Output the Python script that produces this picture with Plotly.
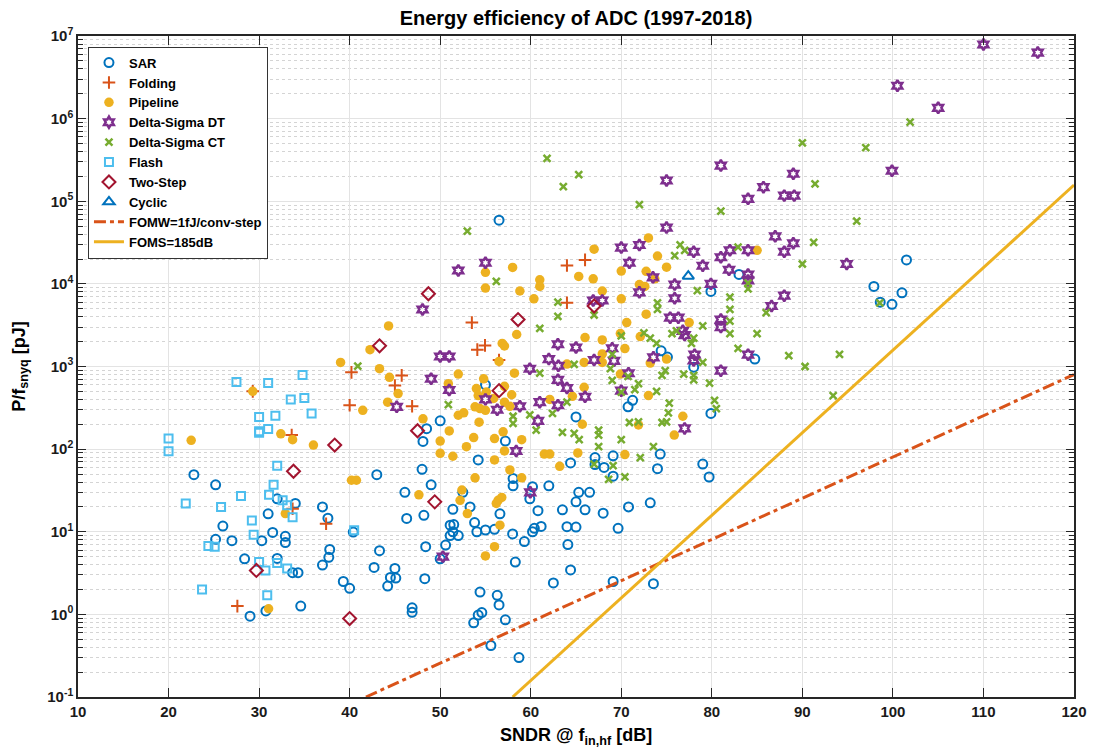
import plotly.graph_objects as go

# ---------------- data (SNDR in dB, P/fsnyq in pJ) ----------------
sar_sndr = [22.8, 25.2, 26.0, 25.2, 27.0, 28.4, 30.3, 31.5, 31.0, 32.0, 34.0, 32.9, 32.9, 32.0, 33.7, 34.3,
            29.0, 30.75, 34.6, 37.0, 37.6, 37.8, 37.7, 37.0, 39.3, 40.0, 40.4,
            56.5, 55.0, 50.0, 48.5, 48.1, 57.2, 65.0,
            83.0, 79.9, 101.5, 97.9, 98.6, 99.9, 101.0,
            74.4, 75.1, 78.0, 84.75, 71.25, 70.75, 79.9, 74.3, 74.0, 79.0, 79.7,
            54.2, 43.0, 48.0, 49.0, 46.1, 52.5, 58.05, 58.05, 60.2, 59.9, 62.0, 64.4, 67.1, 67.1, 68.1,
            65.3, 65.0, 66.5, 53.3, 51.4, 56.6, 60.8, 63.5, 66.0, 68.0, 70.8, 46.3, 48.2, 53.8, 54.05,
            55.0, 56.0, 51.1, 51.5, 51.1, 52.0, 51.4, 50.6, 48.4, 58.0, 59.3, 60.2, 60.4, 61.15, 64.0,
            65.0, 64.1, 69.65, 43.3, 50.0, 42.7, 45.0, 44.5, 44.2, 45.1, 48.3, 58.3, 64.4, 62.5, 69.1,
            54.4, 56.3, 56.5, 46.9, 46.9, 53.7, 54.2, 54.6, 57.2, 55.6, 58.7, 69.1, 69.1,
            73.2, 73.55]
sar_p = [49, 37, 11.7, 8.1, 7.8, 4.7, 7.8, 9.8, 16.5, 25, 22, 8.8, 7.4, 4.75, 3.2, 3.2,
         0.95, 1.1, 1.26, 20, 14.6, 6.1, 4.9, 3.95, 2.5, 2.07, 9.9,
         59000, 600, 220, 177, 124, 125, 245,
         13000, 8100, 19500, 9300, 6000, 5650, 7800,
         1550, 1300, 980, 1230, 390, 325, 270, 87, 58, 66, 46,
         74, 49, 57, 37, 30, 30, 44, 36, 35, 25, 36, 68, 79, 65, 60,
         30, 23, 30, 20, 18.7, 16.5, 18, 18.4, 18.4, 16.8, 20, 14.5, 15.8, 12.9, 10,
         10.5, 10.7, 12, 12.2, 9, 9, 10, 6.9, 6.6, 9.4, 7.6, 10, 11, 11.6, 11.5,
         11.4, 7.0, 11, 5.9, 4.7, 3.7, 3.6, 2.8, 2.2, 2.75, 2.7, 4.3, 3.45, 2.4, 2.5,
         1.86, 1.7, 1.3, 1.2, 1.06, 0.79, 0.98, 1.05, 0.86, 0.42, 0.30, 83, 47,
         22.4, 2.35]

fold_sndr = [29.3, 33.6, 40.2, 40.0, 33.7, 37.4, 27.6, 64.0, 66.0, 64.0, 53.5, 54.1, 54.95, 56.5, 45.75, 45.0, 46.9]
fold_p = [500, 148, 850, 340, 19, 12.5, 1.26, 16700, 19500, 5900, 3400, 1600, 1800, 1200, 780, 590, 330]

pipe_sndr = [22.5, 29.3, 32.4, 33.7, 36.0, 39.0, 40.2, 40.75, 32.9, 31.05,
             67.0, 58.0, 55.0, 65.3, 66.9, 61.0, 61.0, 70.0, 55.0, 58.8, 60.35, 67.9, 70.0, 44.3, 42.25,
             58.45, 56.85, 57.1, 66.0, 67.9, 70.6, 70.4, 69.9, 43.3, 44.4, 45.35, 44.2, 41.45, 56.5, 58.2,
             52.0, 64.0, 65.9, 67.9, 67.9, 69.9, 54.8, 54.0, 54.2, 50.9, 57.1, 57.9, 55.1, 53.85, 54.4,
             55.0, 57.1, 57.7, 55.9, 62.1, 65.9, 64.6, 65.7, 52.0, 52.6, 54.3, 48.1, 51.0, 50.0, 53.7,
             56.0, 56.95, 59.0, 52.9,
             73.0, 74.0, 75.0, 72.75, 73.7, 72.0, 72.6, 72.75, 85.0,
             77.5, 72.1, 75.0, 73.2, 73.0, 76.8, 71.9, 75.85, 70.4,
             50.0, 51.4, 56.0, 57.1, 57.7, 59.0, 53.85, 47.65, 52.4, 52.2, 53.0, 56.4, 56.8, 56.2, 56.6,
             56.0, 55.0, 61.5, 62.1, 63.2, 65.2]
pipe_p = [128, 500, 153, 130, 112, 1120, 42, 42, 16.6, 1.17,
          26300, 15800, 13800, 12300, 11500, 11200, 9300, 14300, 8900, 8200, 6600, 8200, 6600, 3100, 1600,
          2440, 1900, 1770, 2240, 2100, 3400, 1650, 2500, 940, 740, 470, 370, 295, 1150, 830,
          810, 1070, 1120, 1420, 1120, 810, 710, 540, 445, 620, 575, 455, 490, 325, 310,
          295, 370, 330, 410, 400, 560, 435, 200, 257, 275, 212, 233, 166, 125, 138,
          134, 162, 130, 107,
          36000, 21700, 15900, 14200, 11500, 9800, 9300, 4300, 25500,
          3400, 2300, 1230, 1100, 445, 250, 196, 148, 86,
          89, 82, 74, 95, 56, 45, 45, 28, 32, 24, 16.6, 24, 26, 22, 12,
          6.6, 5.1, 87, 87, 62, 90]

dsdt_sndr = [52.0, 55.0, 48.05, 70.0, 70.9, 66.9, 67.9, 50.0, 51.0, 49.0, 51.0, 45.2, 55.0, 56.3, 58.8,
             59.9, 61.0, 60.8, 63.0, 62.0, 63.05, 63.0, 64.0, 63.0, 65.0, 67.0, 66.0, 69.0, 69.2, 70.8,
             70.0, 58.4,
             81.0, 75.0, 89.0, 85.7, 84.0, 88.0, 89.1, 99.9, 75.0, 72.0, 78.0, 79.0, 81.0, 82.0, 84.0,
             81.9, 84.0, 84.0, 87.0, 89.0, 88.0, 94.9, 73.5, 75.9, 72.0, 75.9, 79.9, 88.0, 86.6, 75.4,
             76.3, 81.0,
             81.0, 76.8, 77.0, 78.1, 78.0, 73.55, 84.0, 81.0, 77.0,
             59.95, 50.3,
             110.0, 116.0, 100.5, 105.0]
dsdt_p = [14500, 18000, 4900, 27500, 18000, 6300, 6300, 1320, 1320, 710, 520, 325, 400, 300, 330,
          940, 370, 220, 1860, 1230, 1020, 690, 550, 340, 1700, 1200, 430, 1660, 1170, 830,
          510, 95,
          270000, 178000, 215000, 148000, 107000, 117000, 117000, 234000, 48000, 29500, 24500, 16600,
          21000, 25500, 25500, 14800, 13000, 11000, 37600, 31000, 24500, 17400, 12000, 9800, 7900,
          6700, 10000, 7200, 5400, 3900, 3900, 3700,
          3000, 2700, 2400, 1390, 1180, 1290, 1390, 890, 178,
          30, 5.0,
          7.9e6, 6.3e6, 2.5e6, 1.35e6]

dsct_sndr = [40.9, 53.0, 56.2, 63.0, 63.0, 61.0, 67.0, 70.0, 61.0, 64.8, 69.0, 68.8, 69.0, 70.0, 70.75,
             50.9, 59.9, 62.4, 64.0, 58.05, 58.05, 60.6, 63.5, 64.8, 65.35, 67.5, 67.5, 70.0, 67.5,
             90.0, 97.0, 91.4, 72.0, 81.0, 96.0, 91.25, 90.0, 76.5, 77.0, 75.9, 82.9, 78.4, 84.0, 84.0,
             82.0, 82.0, 74.0, 74.0, 86.0, 101.9, 98.55,
             82.0, 82.0, 79.0, 85.0, 72.5, 73.2, 73.9, 75.6, 76.1, 78.0, 77.75, 82.9, 88.5, 94.1, 90.3,
             93.4, 74.85, 74.5, 76.9, 78.0, 78.0, 79.0, 79.75, 71.9, 71.5, 73.9, 75.3, 75.2, 74.5, 75.0,
             80.3, 80.5, 70.9, 71.9, 73.55, 72.1, 70.4,
             67.0, 69.1, 68.6,
             61.8, 63.6, 65.3]
dsct_p = [1010, 43500, 10700, 6000, 4050, 2900, 4200, 2350, 830, 1060, 1400, 940, 680, 490, 760,
          345, 260, 270, 370, 250, 205, 170, 160, 155, 130, 170, 148, 130, 107,
          510000, 445000, 162000, 91000, 76000, 57500, 31700, 17400, 29600, 25500, 22000, 27900, 8300,
          10200, 8700, 6900, 4900, 5900, 4900, 4500, 910000, 5900,
          3550, 2500, 3100, 2500, 2560, 2200, 1900, 2500, 2700, 2200, 1900, 1660, 1350, 1400, 1000,
          445, 890, 780, 810, 780, 690, 1120, 630, 620, 525, 500, 360, 275, 210, 214,
          390, 310, 210, 214, 107, 79, 46,
          66, 63, 43,
          330000, 150000, 210000]

flash_sndr = [20.0, 20.0, 27.5, 31.0, 34.8, 33.5, 35.0, 35.8, 30.0, 31.8, 30.0, 31.0, 30.0, 32.0, 31.6,
              31.1, 32.6, 33.1, 33.7, 28.0, 21.9, 25.8, 29.2, 29.4, 24.4, 25.1, 30.0, 30.7, 32.0, 33.1,
              23.7, 30.9, 40.5]
flash_p = [134, 94, 650, 630, 790, 400, 415, 270, 245, 253, 158, 175, 165, 63, 37,
           28, 24, 21, 15, 27, 22, 20, 13.7, 9.2, 6.7, 6.6, 4.3, 3.4, 4.2, 3.6,
           2.0, 1.7, 10.4]

two_sndr = [38.35, 33.8, 29.7, 40.0, 48.7, 43.3, 58.6, 67.0, 56.5, 47.5, 49.4]
two_p = [112, 54, 3.4, 0.89, 7600, 1780, 3700, 5400, 510, 167, 23]

cyc_sndr = [77.4]
cyc_p = [12400]

# reference lines, read at the plot borders
fomw_sndr = [41.8, 120.0]
fomw_p = [0.1, 800.0]
foms_sndr = [58.0, 120.0]
foms_p = [0.1, 1.57e5]

# ---------------- figure ----------------
FONT = "Liberation Sans, Arial, Helvetica, sans-serif"
fig = go.Figure()

def add_markers(x, y, name, symbol, color, size, lw):
    mk = dict(symbol=symbol, size=size, color=color, line=dict(color=color, width=lw))
    fig.add_trace(go.Scatter(x=x, y=y, mode="markers", name=name, marker=mk, cliponaxis=True))

add_markers(sar_sndr, sar_p, "SAR", "circle-open", "#0072BD", 9, 2)
add_markers(fold_sndr, fold_p, "Folding", "cross-thin-open", "#D95319", 9, 2)
add_markers(pipe_sndr, pipe_p, "Pipeline", "circle", "#EDB120", 9.5, 0)
add_markers(dsdt_sndr, dsdt_p, "Delta-Sigma DT", "hexagram-open", "#7E2F8E", 8.5, 2.5)
add_markers(dsct_sndr, dsct_p, "Delta-Sigma CT", "x-thin-open", "#77AC30", 7, 2.5)
add_markers(flash_sndr, flash_p, "Flash", "square-open", "#4DBEEE", 8, 2)
add_markers(two_sndr, two_p, "Two-Step", "diamond-open", "#A2142F", 10, 2)
add_markers(cyc_sndr, cyc_p, "Cyclic", "triangle-up-open", "#0072BD", 10, 2)

fig.add_trace(go.Scatter(x=fomw_sndr, y=fomw_p, mode="lines", name="FOMW=1fJ/conv-step",
                         line=dict(color="#D95319", width=3, dash="12px,4px,4px,4px")))
fig.add_trace(go.Scatter(x=foms_sndr, y=foms_p, mode="lines", name="FOMS=185dB",
                         line=dict(color="#EDB120", width=3)))

ytickvals = [10.0 ** e for e in range(-1, 8)]
ytext = ["10<sup>%d</sup>" % e for e in range(-1, 8)]
minor_vals = [m * 10.0 ** e for e in range(-1, 7) for m in range(2, 10)]

axis_common = dict(
    showline=True, linecolor="#262626", linewidth=1.5, mirror="ticks",
    ticks="inside", tickcolor="#262626", tickwidth=1.2,
    showgrid=True, gridcolor="#e3e3e3", gridwidth=1,
    zeroline=False,
    tickfont=dict(family=FONT, size=15, color="#1a1a1a", weight="bold"),
)

fig.update_xaxes(range=[10, 120], tickmode="array", tickvals=list(range(10, 121, 10)),
                 ticklen=9, **axis_common)
fig.update_yaxes(type="log", range=[-1, 7], tickmode="array", tickvals=ytickvals, ticktext=ytext,
                 ticklen=8,
                 minor=dict(tickmode="array", tickvals=minor_vals, ticks="inside", ticklen=5,
                            tickcolor="#262626", showgrid=True, gridcolor="#d4d4d4",
                            griddash="dot", gridwidth=1),
                 **axis_common)

fig.update_layout(
    width=1099, height=751,
    margin=dict(l=78, r=16, t=36, b=54),
    paper_bgcolor="white", plot_bgcolor="white",
    font=dict(family=FONT, color="#1a1a1a"),
    title=dict(text="<b>Energy efficiency of ADC (1997-2018)</b>", x=0.5, xref="paper",
               y=1 - 18 / 751, yref="container", yanchor="middle", xanchor="center",
               font=dict(family=FONT, size=20, color="#000000")),
    showlegend=True,
    legend=dict(x=0.01, y=0.984, xanchor="left", yanchor="top", bgcolor="white",
                bordercolor="#333333", borderwidth=1,
                font=dict(family=FONT, size=13, color="#000000", weight="bold"),
                tracegroupgap=0),
    annotations=[
        dict(text="<b>SNDR @ f<sub>in,hf</sub> [dB]</b>", xref="paper", yref="paper",
             x=0.5, y=-0.06, xanchor="center", yanchor="middle", showarrow=False,
             font=dict(family=FONT, size=18, color="#000000")),
        dict(text="<b>P/f<sub>snyq</sub> [pJ]</b>", xref="paper", yref="paper",
             x=-0.058, y=0.5, xanchor="center", yanchor="middle", showarrow=False, textangle=-90,
             font=dict(family=FONT, size=18, color="#000000")),
    ],
)

fig.write_html("out.html")
